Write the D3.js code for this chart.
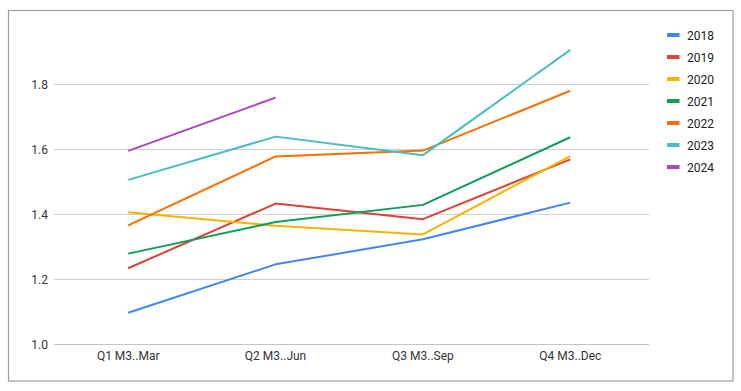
<!DOCTYPE html>
<html>
<head>
<meta charset="utf-8">
<script src="https://cdn.jsdelivr.net/npm/d3@7"></script>
<style>
  body { margin: 0; background: #fff; }
  svg { display: block; font-family: Roboto, sans-serif; }
</style>
</head>
<body>
<svg id="chart" width="741" height="391"></svg>
<script>
const quarters = ['Q1 M3..Mar', 'Q2 M3..Jun', 'Q3 M3..Sep', 'Q4 M3..Dec'];
const years = ['2018', '2019', '2020', '2021', '2022', '2023', '2024'];
const colors = ['#4285f4', '#db4437', '#f4b400', '#0f9d58', '#ff6d01', '#46bdc6', '#ab47bc'];
const yTicks = [1.0, 1.2, 1.4, 1.6, 1.8];

const v2018 = [1.097, 1.246, 1.323, 1.436];
const v2019 = [1.234, 1.433, 1.385, 1.569];
const v2020 = [1.406, 1.365, 1.338, 1.579];
const v2021 = [1.279, 1.376, 1.429, 1.637];
const v2022 = [1.366, 1.578, 1.596, 1.780];
const v2023 = [1.506, 1.639, 1.582, 1.906];
const v2024 = [1.595, 1.759];

const seriesValues = [v2018, v2019, v2020, v2021, v2022, v2023, v2024];

const svg = d3.select('#chart');

// outer frame
svg.append('rect')
  .attr('x', 8.5).attr('y', 10.5)
  .attr('width', 724.5).attr('height', 370.5)
  .attr('fill', 'none')
  .attr('stroke', '#9e9e9e')
  .attr('stroke-width', 1.2);

const x = d3.scalePoint()
  .domain(quarters)
  .range([54.5, 644])
  .padding(0.5);

const y = d3.scaleLinear()
  .domain([1.0, 1.8])
  .range([344.3, 84.3]);

// gridlines
svg.append('g')
  .selectAll('line')
  .data(yTicks)
  .enter()
  .append('line')
  .attr('x1', 54)
  .attr('x2', 649)
  .attr('y1', d => Math.round(y(d)) + 0.5)
  .attr('y2', d => Math.round(y(d)) + 0.5)
  .attr('stroke', d => d === 1.0 ? '#c4c4c4' : '#d0d0d0')
  .attr('stroke-width', 1);

// y labels
svg.append('g')
  .selectAll('text')
  .data(yTicks)
  .enter()
  .append('text')
  .attr('x', 48)
  .attr('y', d => y(d) + 4.5)
  .attr('text-anchor', 'end')
  .attr('font-size', 12)
  .attr('fill', '#333')
  .text(d => d.toFixed(1));

// x labels
svg.append('g')
  .selectAll('text')
  .data(quarters)
  .enter()
  .append('text')
  .attr('x', d => x(d))
  .attr('y', 360)
  .attr('text-anchor', 'middle')
  .attr('font-size', 12)
  .attr('fill', '#333')
  .text(d => d);

// lines
const line = d3.line()
  .x((d, i) => x(quarters[i]))
  .y(d => y(d));

svg.append('g')
  .selectAll('path')
  .data(seriesValues)
  .enter()
  .append('path')
  .attr('d', d => line(d))
  .attr('fill', 'none')
  .attr('stroke', (d, i) => colors[i])
  .attr('stroke-width', 2)
  .attr('stroke-linejoin', 'round');

// legend
const legend = svg.append('g')
  .selectAll('g')
  .data(years)
  .enter()
  .append('g')
  .attr('transform', (d, i) => `translate(667, ${35 + i * 22})`);

legend.append('rect')
  .attr('x', 0).attr('y', -2)
  .attr('width', 12.5).attr('height', 4)
  .attr('fill', (d, i) => colors[i]);

legend.append('text')
  .attr('x', 20)
  .attr('y', 4.5)
  .attr('font-size', 12)
  .attr('fill', '#222')
  .text(d => d);
</script>
</body>
</html>
